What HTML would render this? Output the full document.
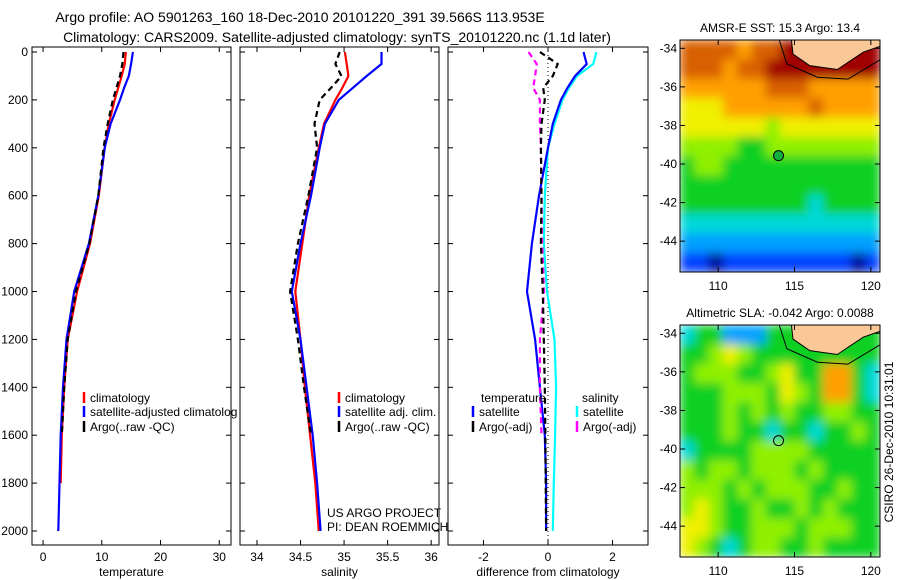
<!DOCTYPE html>
<html><head><meta charset="utf-8"><style>
html,body{margin:0;padding:0;background:#fff;}
svg{display:block;font-family:"Liberation Sans",sans-serif;}
text{font-size:12px;fill:#000;}
.ttl{font-size:14px;}
</style></head><body>
<svg id="chart" width="900" height="580">
<defs><filter id="blur" x="0" y="0" width="1" height="1"><feGaussianBlur stdDeviation="5" edgeMode="duplicate"/></filter>
<clipPath id="c1"><rect x="680" y="40" width="200" height="232"/></clipPath>
<clipPath id="c2"><rect x="680" y="325" width="200" height="232"/></clipPath></defs>
<text class="ttl" x="300" y="22" text-anchor="middle">Argo profile: AO 5901263_160 18-Dec-2010 20101220_391 39.566S 113.953E</text>
<text class="ttl" x="337" y="42" text-anchor="middle">Climatology: CARS2009. Satellite-adjusted climatology: synTS_20101220.nc (1.1d later)</text>
<g id="g"></g>
</svg>
<script>
// ---- profile data (depth in m) ----
const depths = [0,50,100,150,200,300,400,600,800,1000,1200,1400,1600,1800,2000];
const tempClim = [14.1,13.9,13.4,12.8,12.2,11.2,10.5,9.5,8.0,5.8,4.2,3.6,3.2,3.0,null];
const tempSat  = [15.3,15.0,14.6,13.8,13.1,11.5,10.5,9.4,7.8,5.3,4.0,3.4,3.0,2.8,2.6];
const tempArgo = [13.7,13.5,13.1,12.5,11.9,11.0,10.3,9.4,7.9,5.6,4.2,3.6,3.2,null,null];
const salClim  = [35.01,35.03,35.05,34.98,34.9,34.77,34.71,34.6,34.52,34.44,34.5,34.55,34.61,34.67,34.71];
const salSat   = [35.43,35.43,35.26,35.1,34.94,34.78,34.72,34.62,34.5,34.4,34.5,34.57,34.64,34.69,34.73];
const salArgo  = [34.95,34.9,34.97,34.85,34.72,34.66,34.69,34.59,34.47,34.38,34.47,34.54,34.62,null,null];
const dTempSat  = [1.1,1.2,0.84,0.6,0.4,0.15,0,-0.28,-0.5,-0.65,-0.4,-0.25,-0.1,-0.06,-0.06];
const dSalSat   = [1.5,1.4,0.9,0.65,0.45,0.2,0.0,-0.1,-0.13,-0.03,0.2,0.25,0.22,0.18,0.15];
const dTempArgo = [-0.25,0.3,0.15,-0.15,-0.1,-0.2,-0.22,-0.2,-0.22,-0.16,-0.13,-0.1,-0.08,-0.07,-0.06];
const dSalArgo  = [-0.6,-0.35,-0.4,-0.46,-0.25,-0.25,-0.22,-0.2,-0.18,-0.12,-0.25,-0.25,-0.2,null,null];
const depthTicks = [0,200,400,600,800,1000,1200,1400,1600,1800,2000];
const tempTicks = [0,10,20,30];
const salTicks = [34,34.5,35,35.5,36];
const diffTicks = [-2,0,2];
// ---- map data: palette levels, rows north(-34) to south(-45) ----
const sstGrid = ["88887889999999","88878899999999","77777788877777","66677777787777","66666656666666","55554455555555","45544444444444","44444444444444","44444444434444","33333333333333","22222222222222","11011111111101"];
const slaGrid = ["34422244444444","44565444444444","45554456447743","44455546547743","44454545445544","44454434434454","34444555544444","54554555454444","55545455544544","56544544545444","66544555455544","65434554454444"];
const lonTicks = [110,115,120];
const latTicks = [-34,-36,-38,-40,-42,-44];
const palette = ['#00008f','#0040ff','#00a0ff','#00d8d8','#10d020','#90f000','#f0f000','#ffa000','#d86000','#a00000'];

const NS='http://www.w3.org/2000/svg';
const G=document.getElementById('g');
function mk(tag,attrs,parent){const e=document.createElementNS(NS,tag);for(const k in attrs)e.setAttribute(k,attrs[k]);(parent||G).appendChild(e);return e;}
const y=d=>52+d*0.2395;
const panels=[
 {x0:32,x1:231,vmin:-1.88,vmax:32.0,ticks:tempTicks,label:'temperature',name:'temperature'},
 {x0:240,x1:439,vmin:33.805,vmax:36.09,ticks:salTicks,label:'salinity',name:'salinity'},
 {x0:448,x1:648,vmin:-3.1,vmax:3.1,ticks:diffTicks,label:'difference from climatology',name:'difference'}];
panels.forEach((p,i)=>{
 p.sx=v=>p.x0+(v-p.vmin)/(p.vmax-p.vmin)*(p.x1-p.x0);
 const g=mk('g',{});
 
 
 mk('rect',{x:p.x0,y:47,width:p.x1-p.x0,height:498,fill:'#fff',stroke:'#000','stroke-width':1},g);
 depthTicks.forEach(d=>{
  mk('line',{x1:p.x0,x2:p.x0+5,y1:y(d),y2:y(d),stroke:'#000'},g);
  mk('line',{x1:p.x1,x2:p.x1-5,y1:y(d),y2:y(d),stroke:'#000'},g);
  if(i==0){const t=mk('text',{x:p.x0-4,y:y(d)+4,'text-anchor':'end'},g);t.textContent=d;
   
   }
 });
 p.ticks.forEach(v=>{
  const X=p.sx(v);
  mk('line',{x1:X,x2:X,y1:545,y2:540,stroke:'#000'},g);
  mk('line',{x1:X,x2:X,y1:47,y2:52,stroke:'#000'},g);
  const t=mk('text',{x:X,y:561,'text-anchor':'middle'},g);t.textContent=v;
  
  
 });
 const t=mk('text',{x:(p.x0+p.x1)/2,y:576,'text-anchor':'middle'},g);t.textContent=p.label;
 
 
});
function series(p,vals,color,dash,name){
 let d='';let pen=false;
 vals.forEach((v,k)=>{if(v===null){pen=false;return;}d+=(pen?'L':'M')+p.sx(v).toFixed(1)+' '+y(depths[k]).toFixed(1);pen=true;});
 const e=mk('path',{d:d,fill:'none',stroke:color,'stroke-width':2.2});
 if(dash)e.setAttribute('stroke-dasharray',dash);
 
 
}
const [P1,P2,P3]=panels;
const z=mk('line',{x1:P3.sx(0),x2:P3.sx(0),y1:47,y2:545,stroke:'#000','stroke-dasharray':'1 3'});


series(P1,tempClim,'#f00','', 'temp-climatology-line');
series(P1,tempSat,'#00f','', 'temp-satellite-line');
series(P1,tempArgo,'#000','6 4','temp-argo-line');
series(P2,salClim,'#f00','', 'sal-climatology-line');
series(P2,salSat,'#00f','', 'sal-satellite-line');
series(P2,salArgo,'#000','6 4','sal-argo-line');
series(P3,dSalSat,'#0ff','', 'diff-sal-satellite-line');
series(P3,dTempSat,'#00f','', 'diff-temp-satellite-line');
series(P3,dSalArgo,'#f0f','6 4','diff-sal-argo-line');
series(P3,dTempArgo,'#000','6 4','diff-temp-argo-line');
function legend(x,yy,color,txt,name){
 mk('line',{x1:x,x2:x,y1:yy-10,y2:yy+1,stroke:color,'stroke-width':2.5});
 const t=mk('text',{x:x+6,y:yy});t.textContent=txt;
 
 
}
legend(84,402,'#f00','climatology','legend-climatology');
legend(84,416,'#00f','satellite-adjusted climatolog','legend-satellite');
legend(84,431,'#000','Argo(..raw -QC)','legend-argo');
legend(339,402,'#f00','climatology','legend-climatology-2');
legend(339,416,'#00f','satellite adj. clim.','legend-satellite-2');
legend(339,431,'#000','Argo(..raw -QC)','legend-argo-2');
let tt=mk('text',{x:481,y:402});tt.textContent='temperature';


tt=mk('text',{x:582,y:402});tt.textContent='salinity';


legend(473,416,'#00f','satellite','legend-temp-satellite');
legend(473,431,'#000','Argo(-adj)','legend-temp-argo');
legend(577,416,'#0ff','satellite','legend-sal-satellite');
legend(577,431,'#f0f','Argo(-adj)','legend-sal-argo');
tt=mk('text',{x:327,y:517});tt.textContent='US ARGO PROJECT';


tt=mk('text',{x:327,y:531});tt.textContent='PI: DEAN ROEMMICH';



// ---- maps ----
function drawMap(top,grid,title,filled,name,clip){
 const x0=680,x1=880,lonMin=107.5,lonMax=120.6,latTop=-33.57,latBot=-45.6;
 const lx=l=>x0+(l-lonMin)/(lonMax-lonMin)*(x1-x0);
 const ly=l=>top+(latTop-l)/(latTop-latBot)*232;
 const g=mk('g',{});
 
 
 const cg=mk('g',{'clip-path':'url(#'+clip+')'},g);
 const cells=mk('g',{filter:'url(#blur)'},cg);
 const cols=grid[0].length,rows=grid.length;
 const cw=(x1-x0)/cols,ch=232/rows;
 grid.forEach((row,r)=>{[...row].forEach((c,k)=>{
  mk('rect',{x:x0+k*cw,y:top+r*ch,width:cw+0.5,height:ch+0.5,fill:palette[+c]},cells);
 });});
 mk('path',{d:`M${lx(114.8)} ${top} L${lx(114.9)} ${ly(-34.3)} L${lx(116)} ${ly(-34.9)} L${lx(117.8)} ${ly(-35.1)} L${lx(119.5)} ${ly(-34.2)} L${lx(120.6)} ${ly(-33.9)} L${x1} ${top} Z`,fill:'#fac896',stroke:'#000','stroke-width':1},g);
 mk('path',{d:`M${lx(114.0)} ${top} L${lx(114.5)} ${ly(-34.8)} L${lx(116.5)} ${ly(-35.5)} L${lx(118.5)} ${ly(-35.6)} L${lx(120.6)} ${ly(-34.6)}`,fill:'none',stroke:'#000','stroke-width':1},g);
 mk('rect',{x:x0,y:top,width:x1-x0,height:232,fill:'none',stroke:'#000'},g);
 const c=mk('circle',{cx:lx(113.953),cy:ly(-39.566),r:5,fill:filled?'#10b040':'none',stroke:'#000'},g);
 
 
 lonTicks.forEach(v=>{const X=lx(v);
  mk('line',{x1:X,x2:X,y1:top+232,y2:top+227,stroke:'#000'},g);
  mk('line',{x1:X,x2:X,y1:top,y2:top+5,stroke:'#000'},g);
  const t=mk('text',{x:X,y:top+250,'text-anchor':'middle'},g);t.textContent=v;
  
  });
 latTicks.forEach(v=>{const Y=ly(v);
  mk('line',{x1:x0,x2:x0+5,y1:Y,y2:Y,stroke:'#000'},g);
  mk('line',{x1:x1,x2:x1-5,y1:Y,y2:Y,stroke:'#000'},g);
  const t=mk('text',{x:x0-3,y:Y+4,'text-anchor':'end'},g);t.textContent=v;
  
  });
 const t=mk('text',{x:780,y:top-8,'text-anchor':'middle'},g);t.textContent=title;
 
 
}
drawMap(40,sstGrid,'AMSR-E SST: 15.3 Argo: 13.4',true,'sst-map','c1');
drawMap(325,slaGrid,'Altimetric SLA: -0.042 Argo: 0.0088',false,'sla-map','c2');
tt=mk('text',{x:0,y:0,transform:'translate(893,442) rotate(-90)','text-anchor':'middle'});tt.textContent='CSIRO 26-Dec-2010 10:31:01';


</script>
</body></html>
